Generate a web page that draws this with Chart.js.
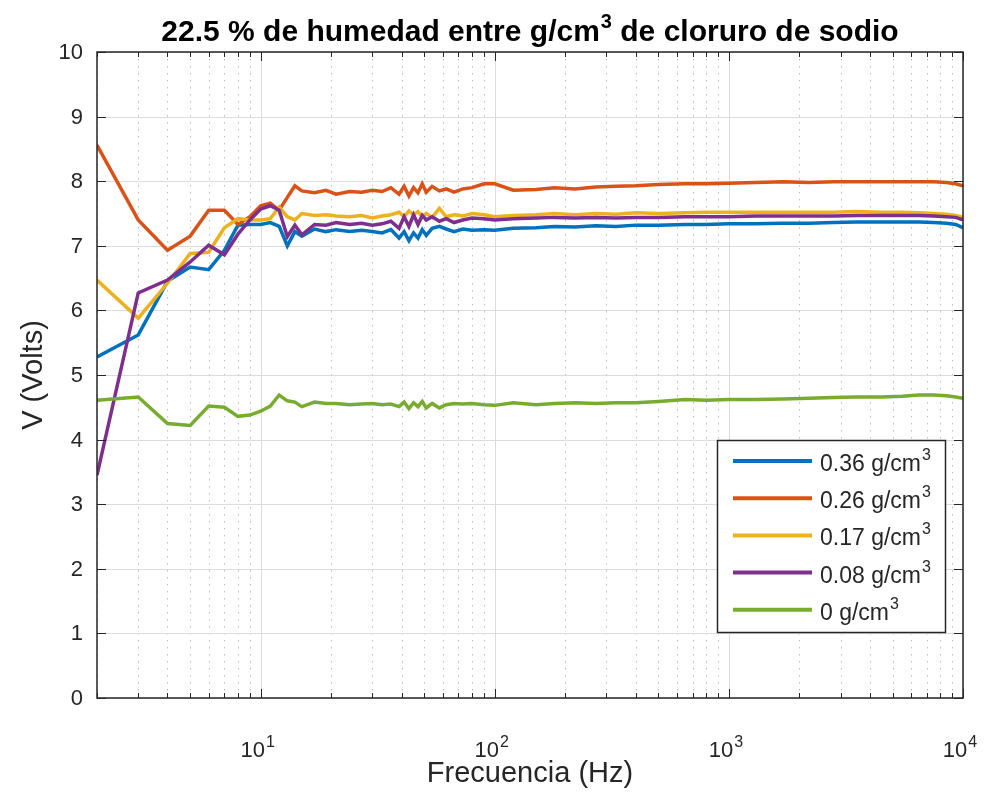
<!DOCTYPE html>
<html>
<head>
<meta charset="utf-8">
<script src="https://cdn.jsdelivr.net/npm/chart.js@4.4.1/dist/chart.umd.min.js"></script>
<style>
  html, body { margin: 0; padding: 0; background: #ffffff; }
  canvas { display: block; }
</style>
</head>
<body>
<canvas id="chart" width="997" height="793"></canvas>
<script>
// Frecuencia (Hz)
const frequencies = [2, 3, 4, 5, 6, 7, 8, 9, 10, 11, 12, 13, 14, 15, 17, 19, 21, 24, 27, 30,
  33, 36, 39, 41, 43, 45, 47, 49, 51, 54, 58, 62, 67, 73, 80, 90, 100, 120, 150, 180,
  220, 270, 330, 400, 500, 650, 800, 1000, 1300, 1700, 2200, 2800, 3500, 4500, 5500, 6500, 7500, 8500, 9300, 10000];

// V (Volts) por concentración
const v036 = [5.28, 5.62, 6.45, 6.67, 6.63, 6.93, 7.32, 7.33, 7.33, 7.36, 7.30, 7.00, 7.22, 7.15, 7.26, 7.22, 7.25, 7.22, 7.24, 7.22,
  7.20, 7.25, 7.12, 7.22, 7.08, 7.20, 7.12, 7.25, 7.16, 7.27, 7.30, 7.26, 7.22, 7.26, 7.24, 7.25, 7.24, 7.27, 7.28, 7.30,
  7.29, 7.31, 7.30, 7.32, 7.32, 7.33, 7.33, 7.34, 7.34, 7.35, 7.35, 7.36, 7.37, 7.37, 7.37, 7.37, 7.36, 7.35, 7.33, 7.28];
const v026 = [8.56, 7.40, 6.93, 7.15, 7.55, 7.55, 7.33, 7.45, 7.62, 7.66, 7.55, 7.75, 7.93, 7.85, 7.82, 7.86, 7.80, 7.84, 7.83, 7.86,
  7.84, 7.90, 7.80, 7.92, 7.77, 7.90, 7.82, 7.96, 7.83, 7.92, 7.85, 7.88, 7.83, 7.88, 7.90, 7.96, 7.96, 7.86, 7.87, 7.90,
  7.88, 7.91, 7.92, 7.93, 7.95, 7.96, 7.96, 7.97, 7.98, 7.99, 7.98, 7.99, 7.99, 7.99, 7.99, 7.99, 7.99, 7.98, 7.96, 7.93];
const v017 = [6.47, 5.88, 6.42, 6.88, 6.90, 7.28, 7.42, 7.40, 7.40, 7.42, 7.60, 7.45, 7.40, 7.50, 7.47, 7.48, 7.46, 7.45, 7.47, 7.43,
  7.46, 7.48, 7.52, 7.45, 7.54, 7.48, 7.53, 7.45, 7.50, 7.44, 7.58, 7.45, 7.48, 7.46, 7.50, 7.48, 7.45, 7.47, 7.48, 7.50,
  7.48, 7.50, 7.49, 7.51, 7.50, 7.51, 7.52, 7.52, 7.52, 7.52, 7.52, 7.52, 7.53, 7.52, 7.52, 7.51, 7.50, 7.49, 7.47, 7.44];
const v008 = [3.45, 6.27, 6.47, 6.75, 7.01, 6.86, 7.18, 7.40, 7.57, 7.62, 7.55, 7.14, 7.32, 7.17, 7.33, 7.32, 7.36, 7.33, 7.35, 7.32,
  7.34, 7.38, 7.27, 7.45, 7.30, 7.48, 7.33, 7.47, 7.40, 7.45, 7.38, 7.42, 7.36, 7.40, 7.43, 7.42, 7.40, 7.42, 7.43, 7.44,
  7.43, 7.44, 7.43, 7.44, 7.44, 7.45, 7.45, 7.45, 7.46, 7.46, 7.46, 7.46, 7.47, 7.47, 7.47, 7.47, 7.46, 7.45, 7.44, 7.40];
const v000 = [4.61, 4.66, 4.25, 4.22, 4.52, 4.50, 4.36, 4.38, 4.44, 4.52, 4.69, 4.60, 4.58, 4.51, 4.58, 4.56, 4.56, 4.54, 4.55, 4.56,
  4.54, 4.55, 4.51, 4.58, 4.48, 4.57, 4.51, 4.59, 4.49, 4.56, 4.49, 4.54, 4.56, 4.55, 4.56, 4.54, 4.53, 4.57, 4.54, 4.56,
  4.57, 4.56, 4.57, 4.57, 4.59, 4.62, 4.61, 4.62, 4.62, 4.63, 4.64, 4.65, 4.66, 4.66, 4.67, 4.69, 4.69, 4.68, 4.66, 4.64];

const seriesNames = ['0.36 g/cm', '0.26 g/cm', '0.17 g/cm', '0.08 g/cm', '0 g/cm'];
const seriesValues = [v036, v026, v017, v008, v000];
const seriesColors = ['#0072BD', '#D95319', '#EDB120', '#7E2F8E', '#77AC30'];

const yTicks = [0, 1, 2, 3, 4, 5, 6, 7, 8, 9, 10];
const xDecadeTicks = [10, 100, 1000, 10000];
const xDecadeLabels = ['1', '2', '3', '4'];

const FONT = '"Liberation Sans", Arial, Helvetica, sans-serif';
const TEXT = '#262626';

// texto con superíndice
function drawSup(ctx, base, sup, x, y, size, supSize, raise, align, weight) {
  ctx.font = weight + ' ' + size + 'px ' + FONT;
  const w1 = ctx.measureText(base).width;
  ctx.font = weight + ' ' + supSize + 'px ' + FONT;
  const w2 = ctx.measureText(sup).width;
  const total = w1 + 1 + w2;
  let x0 = x;
  if (align === 'center') x0 = x - total / 2;
  if (align === 'right') x0 = x - total;
  ctx.textAlign = 'left';
  ctx.textBaseline = 'alphabetic';
  ctx.font = weight + ' ' + size + 'px ' + FONT;
  ctx.fillText(base, x0, y);
  ctx.font = weight + ' ' + supSize + 'px ' + FONT;
  ctx.fillText(sup, x0 + w1 + 1, y - raise);
}

const gridPlugin = {
  id: 'matlabGrid',
  beforeDatasetsDraw(chart) {
    const { ctx, chartArea: a, scales: { x, y } } = chart;
    ctx.save();
    // menores (punteadas)
    ctx.strokeStyle = '#bdbdbd';
    ctx.lineWidth = 1;
    ctx.setLineDash([1.5, 5.5]);
    for (let d = 1; d <= 1000; d *= 10) {
      for (let m = 2; m <= 9; m++) {
        const val = m * d;
        if (val < 2 || val > 10000) continue;
        const px = Math.round(x.getPixelForValue(val)) + 0.5;
        ctx.beginPath();
        ctx.moveTo(px, a.top);
        ctx.lineTo(px, a.bottom);
        ctx.stroke();
      }
    }
    // mayores
    ctx.setLineDash([]);
    ctx.strokeStyle = '#dcdcdc';
    xDecadeTicks.forEach(val => {
      const px = Math.round(x.getPixelForValue(val)) + 0.5;
      ctx.beginPath();
      ctx.moveTo(px, a.top);
      ctx.lineTo(px, a.bottom);
      ctx.stroke();
    });
    yTicks.forEach(val => {
      const py = Math.round(y.getPixelForValue(val)) + 0.5;
      ctx.beginPath();
      ctx.moveTo(a.left, py);
      ctx.lineTo(a.right, py);
      ctx.stroke();
    });
    ctx.restore();
  },
  afterDatasetsDraw(chart) {
    const { ctx, chartArea: a, scales: { x, y } } = chart;
    ctx.save();
    ctx.strokeStyle = TEXT;
    ctx.fillStyle = TEXT;
    ctx.lineWidth = 1.5;
    ctx.strokeRect(a.left, a.top, a.right - a.left, a.bottom - a.top);

    // marcas
    ctx.lineWidth = 1;
    for (let d = 1; d <= 1000; d *= 10) {
      for (let m = 2; m <= 9; m++) {
        const val = m * d;
        if (val < 2 || val > 10000) continue;
        const px = Math.round(x.getPixelForValue(val)) + 0.5;
        ctx.beginPath();
        ctx.moveTo(px, a.bottom); ctx.lineTo(px, a.bottom - 5);
        ctx.moveTo(px, a.top); ctx.lineTo(px, a.top + 5);
        ctx.stroke();
      }
    }
    xDecadeTicks.forEach(val => {
      const px = Math.round(x.getPixelForValue(val)) + 0.5;
      ctx.beginPath();
      ctx.moveTo(px, a.bottom); ctx.lineTo(px, a.bottom - 9);
      ctx.moveTo(px, a.top); ctx.lineTo(px, a.top + 9);
      ctx.stroke();
    });
    yTicks.forEach(val => {
      const py = Math.round(y.getPixelForValue(val)) + 0.5;
      ctx.beginPath();
      ctx.moveTo(a.left, py); ctx.lineTo(a.left + 9, py);
      ctx.moveTo(a.right, py); ctx.lineTo(a.right - 9, py);
      ctx.stroke();
    });

    // etiquetas de los ejes
    ctx.font = '22px ' + FONT;
    ctx.textAlign = 'right';
    ctx.textBaseline = 'middle';
    yTicks.forEach(val => {
      ctx.fillText(String(val), a.left - 14, y.getPixelForValue(val) + 1);
    });
    xDecadeTicks.forEach((val, i) => {
      drawSup(ctx, '10', xDecadeLabels[i], x.getPixelForValue(val) - 3, a.bottom + 59, 22, 16, 10, 'center', '');
    });

    ctx.font = '29px ' + FONT;
    ctx.textAlign = 'center';
    ctx.textBaseline = 'alphabetic';
    ctx.fillText('Frecuencia (Hz)', (a.left + a.right) / 2, 782);
    ctx.save();
    ctx.translate(42, (a.top + a.bottom) / 2);
    ctx.rotate(-Math.PI / 2);
    ctx.fillText('V (Volts)', 0, 0);
    ctx.restore();

    // título
    ctx.fillStyle = '#000000';
    const t1 = '22.5 % de humedad entre g/cm';
    const t2 = ' de cloruro de sodio';
    ctx.font = 'bold 30px ' + FONT;
    const w1 = ctx.measureText(t1).width;
    const w3 = ctx.measureText(t2).width;
    ctx.font = 'bold 20px ' + FONT;
    const w2 = ctx.measureText('3').width;
    const tx = (a.left + a.right) / 2 - (w1 + w2 + 1 + w3) / 2;
    ctx.textAlign = 'left';
    ctx.font = 'bold 30px ' + FONT;
    ctx.fillText(t1, tx, 41);
    ctx.font = 'bold 20px ' + FONT;
    ctx.fillText('3', tx + w1 + 1, 28);
    ctx.font = 'bold 30px ' + FONT;
    ctx.fillText(t2, tx + w1 + w2 + 1, 41);

    // leyenda
    const lx = 717, ly = 440, lw = 228, lh = 192;
    ctx.fillStyle = '#ffffff';
    ctx.fillRect(lx, ly, lw, lh);
    ctx.strokeStyle = TEXT;
    ctx.lineWidth = 1.5;
    ctx.strokeRect(lx + 0.5, ly + 0.5, lw, lh);
    seriesNames.forEach((name, i) => {
      const cy = 461 + i * 37.2;
      ctx.strokeStyle = seriesColors[i];
      ctx.lineWidth = 4;
      ctx.beginPath();
      ctx.moveTo(733, cy); ctx.lineTo(812, cy);
      ctx.stroke();
      ctx.fillStyle = TEXT;
      drawSup(ctx, name, '3', 820, cy + 10, 23, 16, 11, 'left', '');
    });
    ctx.restore();
  }
};

const datasets = seriesValues.map((vals, i) => ({
  label: seriesNames[i],
  data: frequencies.map((f, j) => ({ x: f, y: vals[j] })),
  borderColor: seriesColors[i],
  backgroundColor: seriesColors[i],
  borderWidth: 3.5,
  pointRadius: 0,
  tension: 0,
  fill: false,
  order: seriesValues.length - i
}));

new Chart(document.getElementById('chart').getContext('2d'), {
  type: 'line',
  data: { datasets },
  options: {
    responsive: false,
    devicePixelRatio: 1,
    animation: false,
    layout: { padding: { left: 97, right: 34, top: 52, bottom: 95 } },
    plugins: { legend: { display: false }, title: { display: false }, tooltip: { enabled: false } },
    scales: {
      x: { type: 'logarithmic', min: 2, max: 10000, display: false },
      y: { type: 'linear', min: 0, max: 10, display: false }
    }
  },
  plugins: [gridPlugin]
});
</script>
</body>
</html>
